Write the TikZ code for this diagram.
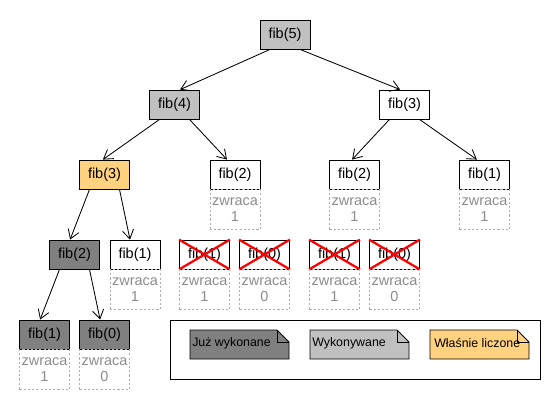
\documentclass[tikz,border=0pt]{standalone}
\usepackage{fontspec}
\setmainfont{Liberation Sans}
\usepackage{tikz}
\usetikzlibrary{arrows.meta,positioning}

\definecolor{done}{HTML}{808080}
\definecolor{running}{HTML}{C0C0C0}
\definecolor{current}{HTML}{FFD27F}
\definecolor{retgray}{HTML}{8C8C8C}

\tikzset{
  call/.style={draw, line width=0.6pt, minimum width=1.25cm, minimum height=0.725cm,
    inner sep=0pt, font=\fontsize{10.3}{12}\selectfont},
  ret/.style={draw=retgray!70, dash pattern=on 1.5pt off 1.5pt, line width=0.5pt,
    minimum width=1.25cm, minimum height=1cm, inner sep=0pt, align=center, text=retgray,
    font=\fontsize{10.3}{11}\selectfont},
  edge/.style={->, line width=0.6pt},
  cross/.style={red, line width=1.6pt},
  note/.style={draw, line width=0.6pt},
}

\begin{document}
\begin{tikzpicture}[x=0.025cm, y=-0.025cm, >={Straight Barb[length=2.2mm,width=2.8mm]}]
  \useasboundingbox (0,0) rectangle (560,410);

  % ========== drzewo wywołań ==========
  \node[call, fill=running] (f5) at (285,34.5) {fib(5)};
  \node[call, fill=running] (f4) at (174.5,104.5) {fib(4)};
  \node[call] (f3r) at (404.5,104.5) {fib(3)};
  \node[call, fill=current] (f3l) at (104.5,174.5) {fib(3)};
  \node[call] (f2a) at (235,174.5) {fib(2)};
  \node[call] (f2b) at (354.5,174.5) {fib(2)};
  \node[call] (f1a) at (484.5,174.5) {fib(1)};
  \node[call, fill=done] (f2c) at (74.5,254.5) {fib(2)};
  \node[call] (f1b) at (135,254.5) {fib(1)};
  \node[call, fill=done] (f1c) at (44.5,334.5) {fib(1)};
  \node[call, fill=done] (f0) at (104.5,334.5) {fib(0)};

  % wywołania pominięte
  \node[call] (x1) at (204.5,254.5) {fib(1)};
  \node[call] (x2) at (264.5,254.5) {fib(0)};
  \node[call] (x3) at (334.5,254.5) {fib(1)};
  \node[call] (x4) at (394.5,254.5) {fib(0)};
  \draw[cross] (x1.south west) -- (x1.north east) (x1.north west) -- (x1.south east);
  \draw[cross] (x2.south west) -- (x2.north east) (x2.north west) -- (x2.south east);
  \draw[cross] (x3.south west) -- (x3.north east) (x3.north west) -- (x3.south east);
  \draw[cross] (x4.south west) -- (x4.north east) (x4.north west) -- (x4.south east);

  % wartości zwracane
  \node[ret, below=0pt of f2a] (r2a) {zwraca\\1};
  \node[ret, below=0pt of f2b] (r2b) {zwraca\\1};
  \node[ret, below=0pt of f1a] (r1a) {zwraca\\1};
  \node[ret, below=0pt of f1b] (r1b) {zwraca\\1};
  \node[ret, below=0pt of x1] (rx1) {zwraca\\1};
  \node[ret, below=0pt of x2] (rx2) {zwraca\\0};
  \node[ret, below=0pt of x3] (rx3) {zwraca\\1};
  \node[ret, below=0pt of x4] (rx4) {zwraca\\0};
  \node[ret, below=0pt of f1c] (r1c) {zwraca\\1};
  \node[ret, below=0pt of f0] (r0) {zwraca\\0};

  % krawędzie
  \draw[edge] ([xshift=-0.375cm]f5.south) -- ([xshift=0.14cm]f4.north);
  \draw[edge] ([xshift=0.375cm]f5.south) -- ([xshift=-0.11cm]f3r.north);
  \draw[edge] ([xshift=-0.375cm]f4.south) -- ([xshift=-0.04cm]f3l.north);
  \draw[edge] ([xshift=0.375cm]f4.south) -- ([xshift=-0.2cm]f2a.north);
  \draw[edge] ([xshift=-0.375cm]f3r.south) -- ([xshift=-0.06cm]f2b.north);
  \draw[edge] ([xshift=0.375cm]f3r.south) -- ([xshift=-0.19cm]f1a.north);
  \draw[edge] ([xshift=-0.375cm]f3l.south) -- ([xshift=-0.11cm]f2c.north);
  \draw[edge] ([xshift=0.375cm]f3l.south) -- ([xshift=-0.125cm]f1b.north);
  \draw[edge] ([xshift=-0.375cm]f2c.south) -- ([xshift=-0.11cm]f1c.north);
  \draw[edge] ([xshift=0.375cm]f2c.south) -- ([xshift=-0.11cm]f0.north);

  % ========== legenda ==========
  \draw[line width=0.6pt] (170,320) rectangle (540,379);

  \filldraw[note, fill=done] (190,330) -- (277,330) -- (289,342) -- (289,359) -- (190,359) -- cycle;
  \draw[line width=0.5pt] (277,330) -- (277,342) -- (289,342);
  \node[anchor=west, inner sep=0pt, font=\fontsize{8.8}{10}\selectfont] (l1) at (192,343) {Już wykonane};

  \filldraw[note, fill=running] (310,330) -- (397,330) -- (409,342) -- (409,359) -- (310,359) -- cycle;
  \draw[line width=0.5pt] (397,330) -- (397,342) -- (409,342);
  \node[anchor=west, inner sep=0pt, font=\fontsize{8.8}{10}\selectfont] (l2) at (312,343) {Wykonywane};

  \filldraw[note, fill=current] (430,330) -- (517,330) -- (529,342) -- (529,359) -- (430,359) -- cycle;
  \draw[line width=0.5pt] (517,330) -- (517,342) -- (529,342);
  \node[anchor=west, inner sep=0pt, font=\fontsize{8.8}{10}\selectfont] (l3) at (434,343) {Właśnie liczone};
\end{tikzpicture}
\end{document}
